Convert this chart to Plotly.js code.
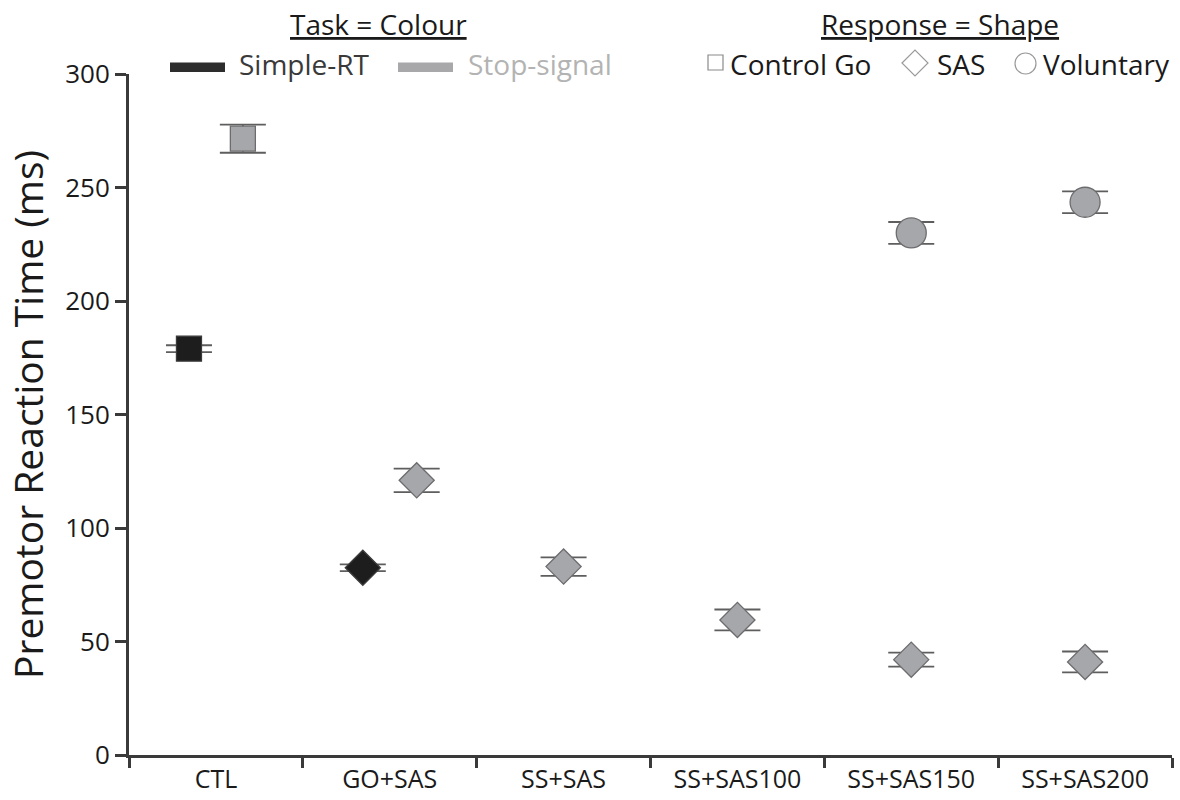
<!DOCTYPE html>
<html>
<head>
<meta charset="utf-8">
<script src="https://cdn.plot.ly/plotly-3.0.1.min.js"></script>
<style>html,body{margin:0;padding:0;background:#fff;}#chart{width:1180px;height:800px;}</style>
</head>
<body>
<div id="chart"></div>
<script>
// ---- data ----
const categories = ["CTL", "GO+SAS", "SS+SAS", "SS+SAS100", "SS+SAS150", "SS+SAS200"];

// Simple-RT task (black)
const simpleCats  = ["CTL", "GO+SAS"];
const simpleShape = ["Control Go", "SAS"];
const simpleMean  = [179, 82.5];
const simpleErr   = [1.5, 1.5];

// Stop-signal task (gray)
const stopCats  = ["CTL", "GO+SAS", "SS+SAS", "SS+SAS100", "SS+SAS150", "SS+SAS200", "SS+SAS150", "SS+SAS200"];
const stopShape = ["Control Go", "SAS", "SAS", "SAS", "SAS", "SAS", "Voluntary", "Voluntary"];
const stopMean  = [271.5, 121, 83, 59.5, 42, 41, 230, 243.5];
const stopErr   = [6.2, 5.2, 4.1, 4.6, 3.1, 4.6, 4.8, 4.8];

const yTicks = [0, 50, 100, 150, 200, 250, 300];

// ---- styling ----
const FONT = "Open Sans, Lato, sans-serif";
const shapeSymbol = {"Control Go": "square", "SAS": "diamond", "Voluntary": "circle"};
const shapeSize   = {"Control Go": 25, "SAS": 27, "Voluntary": 30};

// markers of two tasks sharing a category are offset left/right
const pairOffset = 0.155;
function xPos(cat, task) {
  const i = categories.indexOf(cat);
  const both = simpleCats.includes(cat) && stopCats.includes(cat);
  if (!both) return i;
  return i + (task === "simple" ? -pairOffset : pairOffset);
}

function makeTrace(cats, shapes, means, errs, task, fill, edge, name) {
  return {
    type: "scatter", mode: "markers", name: name, showlegend: false,
    x: cats.map(c => xPos(c, task)),
    y: means,
    error_y: {type: "data", array: errs, visible: true, color: "#5e5e5e", thickness: 1.8, width: 23},
    marker: {
      symbol: shapes.map(s => shapeSymbol[s]),
      size: shapes.map(s => shapeSize[s]),
      color: fill,
      opacity: 1,
      line: {color: edge, width: 1.3}
    },
    cliponaxis: false
  };
}

const traces = [
  makeTrace(stopCats, stopShape, stopMean, stopErr, "stop", "#a6a7ab", "#6c6c6e", "Stop-signal"),
  makeTrace(simpleCats, simpleShape, simpleMean, simpleErr, "simple", "#1d1d1d", "#3a3a3a", "Simple-RT")
];

// plot area in pixels
const L = 129, R = 8, T = 74, B = 45, W = 1180, H = 800;
const pw = W - L - R, ph = H - T - B;
const px = v => (v - L) / pw;
const py = v => (H - B - v) / ph;

const boundaries = [];
for (let i = 0; i <= categories.length; i++) boundaries.push(i - 0.5);

const ann = (text, x, y, color, extra) => Object.assign({
  text: text, xref: "paper", yref: "paper", x: px(x), y: py(y),
  xanchor: "left", yanchor: "middle", showarrow: false,
  font: Object.assign({family: FONT, size: 28, color: color}, (extra && extra.font) || {})
}, extra && extra.xanchor ? {xanchor: extra.xanchor} : {});

const annotations = [
  ann("Task = Colour", 378, 24, "#1a1a1a", {xanchor: "center", font: {lineposition: "under"}}),
  ann("Response = Shape", 940, 24, "#1a1a1a", {xanchor: "center", font: {lineposition: "under"}}),
  ann("Simple-RT", 237, 64, "#3a3a3a"),
  ann("Stop-signal", 466, 64, "#b3b3b3"),
  ann("Control Go", 728, 64, "#1a1a1a"),
  ann("SAS", 935, 64, "#1a1a1a"),
  ann("Voluntary", 1041, 64, "#1a1a1a")
];

const shapes = [
  {type: "rect", xref: "paper", yref: "paper", x0: px(170), x1: px(225), y0: py(62.5), y1: py(72), fillcolor: "#2d2d2d", line: {width: 0}},
  {type: "rect", xref: "paper", yref: "paper", x0: px(398), x1: px(453), y0: py(62.5), y1: py(72), fillcolor: "#a8a8aa", line: {width: 0}},
  {type: "rect", xref: "paper", yref: "paper", x0: px(708), x1: px(723), y0: py(55), y1: py(70), fillcolor: "rgba(0,0,0,0)", line: {color: "#8a8a8a", width: 1.2}},
  {type: "path", xref: "paper", yref: "paper",
   path: `M ${px(902)} ${py(63)} L ${px(915)} ${py(50)} L ${px(928)} ${py(63)} L ${px(915)} ${py(76)} Z`,
   fillcolor: "rgba(0,0,0,0)", line: {color: "#9a9a9a", width: 1.2}},
  {type: "circle", xref: "paper", yref: "paper", x0: px(1015), x1: px(1036), y0: py(53), y1: py(74), fillcolor: "rgba(0,0,0,0)", line: {color: "#9a9a9a", width: 1.2}}
];

const layout = {
  width: W, height: H,
  margin: {l: L, r: R, t: T, b: B, pad: 0},
  paper_bgcolor: "#ffffff", plot_bgcolor: "#ffffff",
  showlegend: false,
  font: {family: FONT, color: "#1a1a1a"},
  xaxis: {
    range: [-0.5, categories.length - 0.5],
    tickvals: categories.map((c, i) => i),
    ticktext: categories,
    ticks: "",
    tickfont: {family: FONT, size: 25, color: "#1a1a1a"},
    showgrid: false, zeroline: false,
    showline: true, linecolor: "#3a3a3a", linewidth: 3,
    minor: {tickvals: boundaries, ticks: "outside", ticklen: 10, tickwidth: 3, tickcolor: "#3a3a3a", showgrid: false},
    fixedrange: true
  },
  yaxis: {
    range: [0, 300],
    tickvals: yTicks,
    ticks: "outside", ticklen: 11, tickwidth: 3, tickcolor: "#3a3a3a",
    tickfont: {family: FONT, size: 26, color: "#1a1a1a"},
    showgrid: false, zeroline: false,
    showline: true, linecolor: "#3a3a3a", linewidth: 3,
    title: {text: "Premotor Reaction Time (ms)", font: {family: FONT, size: 39, color: "#1a1a1a"}, standoff: 10},
    fixedrange: true
  },
  annotations: annotations,
  shapes: shapes
};

Plotly.newPlot("chart", traces, layout, {displayModeBar: false, staticPlot: true});
</script>
</body>
</html>
